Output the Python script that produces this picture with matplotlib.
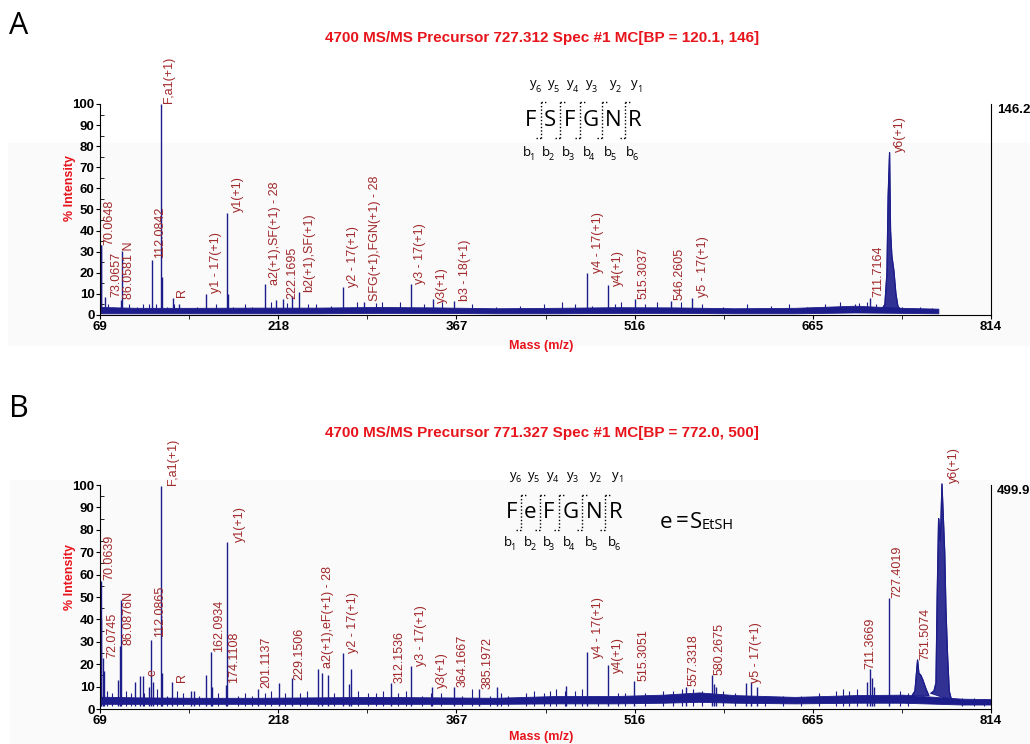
import matplotlib.pyplot as plt
from matplotlib.lines import Line2D
from matplotlib.patches import Rectangle

plt.rcParams["font.family"] = ["Liberation Sans", "DejaVu Sans"]

W, H = 1030, 744
NAVY = "#1c1c8a"
RED = "#e8141c"
LBL = "#a0282a"

# ---------------- panel A data ----------------
a_title = "4700 MS/MS Precursor 727.312 Spec #1 MC[BP = 120.1, 146]"
a_max = "146.2"
a_mz = [69.8, 70.1, 73.1, 87.1, 86.5, 112.3, 120.1, 121.2, 129.8, 135.0,
        157.7, 175.3, 175.9, 207.1, 216.5, 222.2, 229.5, 235.0, 272.2, 289.4,
        329.3, 347.5, 365.3, 476.4, 493.7, 516.0, 546.7, 563.7, 713.0]
a_int = [33, 33, 8.5, 30.5, 7, 26, 100, 18, 8, 5,
         10, 48.5, 10, 14.5, 7, 7.5, 9, 11, 13.5, 6,
         14.7, 7.5, 6.8, 19.7, 14, 7.4, 6.8, 8, 8.2]
# small noise spikes
a_noise_mz = [76, 80, 93, 100, 105, 110, 116, 125, 131, 140, 150, 166, 180, 190,
              196, 212, 225, 243, 250, 262, 284, 300, 305, 320, 340, 355, 380,
              400, 420, 440, 455, 466, 480, 500, 505, 525, 535, 555, 572, 590,
              610, 630, 645, 660, 675, 688, 700, 704, 710, 718, 740, 755, 765]
a_noise_int = [5, 4, 5, 4, 5, 5, 5, 4, 5, 3.5, 4, 5, 4, 5,
               4, 6, 5.5, 5, 5, 4.5, 6, 5.5, 6, 6, 5, 6, 5,
               4, 4.5, 5, 6, 5, 4.5, 5, 6, 5, 6, 6, 5, 4,
               5, 4.5, 5, 4, 5, 6, 5, 5.5, 6, 5, 4, 4, 3.5]
a_env_mz = [69, 100, 150, 200, 250, 300, 350, 400, 450, 500, 550, 600, 650, 700, 740, 770]
a_env_lo = [0.8, 0.8, 0.8, 0.8, 0.8, 1.0, 1.0, 0.8, 0.8, 1.0, 1.0, 0.8, 0.8, 1.2, 1.0, 0.8]
a_env_hi = [3.8, 3.4, 3.4, 3.5, 3.5, 3.8, 3.6, 3.2, 3.4, 3.7, 3.6, 3.2, 3.4, 4.4, 3.4, 3.0]
# broad y6 peak profile
a_prof_mz = [723.0, 725.3, 727.0, 728.0, 729.2, 730.0, 731.1, 732.8, 734.5, 736.2, 738.5]
a_prof_int = [3, 5, 20, 56, 77, 40, 28, 21, 10, 4, 2.5]

a_lbl = ["70.0648", "73.0657", "86.0581 N", "112.0842", "F,a1(+1)", "R",
         "y1 - 17(+1)", "y1(+1)", "a2(+1),SF(+1) - 28", "222.1695", "b2(+1),SF(+1)",
         "y2 - 17(+1)", "SFG(+1),FGN(+1) - 28", "y3 - 17(+1)", "y3(+1)", "b3 - 18(+1)",
         "y4 - 17(+1)", "y4(+1)", "515.3037", "546.2605", "y5 - 17(+1)",
         "711.7164", "y6(+1)"]
a_lbl_mz = [71.8, 77.4, 88.5, 114.2, 122.0, 132.4, 161.1, 179.2, 209.9, 224.7,
            239.2, 275.5, 293.6, 331.3, 350.3, 368.9, 480.6, 497.3, 518.3, 548.9,
            568.5, 715.0, 733.1]
a_lbl_y = [33, 8.7, 7.4, 26.9, 100.3, 8.7, 10.6, 48.7, 14.2, 7.4, 11, 13.4,
           6.8, 14.7, 5.5, 6.8, 19.7, 13.7, 7.4, 7.1, 8.4, 8.7, 77.4]

a_seq = ["F", "S", "F", "G", "N", "R"]

# ---------------- panel B data ----------------
b_title = "4700 MS/MS Precursor 771.327 Spec #1 MC[BP = 772.0, 500]"
b_max = "499.9"
b_mz = [69.8, 70.1, 71.8, 72.3, 83.9, 85.7, 86.6, 98.1, 102.3, 104.8, 110.3,
        112.0, 113.0, 120.1, 121.0, 129.4, 144.7, 148.0, 157.7, 161.7, 163.0,
        174.0, 175.3, 201.5, 219.0, 229.5, 250.9, 255.0, 259.3, 272.2, 277.0,
        278.9, 312.6, 329.3, 346.6, 364.8, 386.3, 401.0, 459.0, 476.4, 493.7,
        515.5, 558.7, 581.0, 582.2, 583.8, 609.0, 613.0, 618.0, 710.2, 713.0,
        714.4, 716.0, 728.3]
b_int = [57, 40, 22.6, 17, 13, 28, 48.7, 12, 14.7, 14.7, 10,
         31, 12, 99.5, 16, 12, 8, 8, 15, 25.6, 10,
         10.7, 74.7, 9, 11.6, 13.7, 18, 16, 15, 24.8, 11,
         18, 11.7, 19.3, 9.7, 10, 8.8, 9.7, 10.4, 25.3, 19.6,
         12.5, 10, 15.2, 11, 10, 11.7, 12, 10, 12, 18,
         14, 10, 49.4]
b_noise_mz = [75, 79, 91, 95, 106, 117, 125, 133, 138, 152, 168, 184, 190, 196,
              207, 212, 224, 236, 242, 265, 285, 293, 300, 306, 318, 325, 338,
              346, 354, 372, 380, 395, 404, 410, 425, 432, 440, 445, 450, 458,
              466, 472, 485, 502, 508, 525, 540, 548, 556, 565, 572, 590, 600,
              625, 640, 655, 670, 684, 690, 695, 702, 738, 745, 790, 800, 808]
b_noise_int = [8, 7, 8, 7, 7, 9, 6, 8, 7, 6, 7, 6, 7, 6,
               7, 8, 7, 7, 8, 7, 8, 7, 7, 8, 7, 8, 6,
               7, 7, 6, 9, 6, 7, 6, 7, 8, 7, 8, 9, 8,
               8, 9, 6, 7, 7, 7, 8, 8, 9, 9, 8, 8, 7,
               6, 6, 6, 7, 8, 9, 8, 9, 8, 7, 5, 5, 4.5]
b_env_mz = [69, 100, 150, 200, 250, 300, 350, 400, 450, 500, 540, 570, 600,
            650, 700, 740, 790, 814]
b_env_lo = [2.3, 2.3, 2.3, 2.3, 2.3, 2.3, 2.3, 2.3, 2.5, 2.5, 2.8, 3.2, 2.8,
            2.5, 2.8, 2.8, 2.0, 2.0]
b_env_hi = [5.5, 5.2, 5.0, 5.0, 5.2, 5.4, 5.2, 5.0, 5.8, 5.8, 6.4, 7.4, 6.2,
            5.4, 6.2, 6.4, 4.6, 4.4]
b_prof1_mz = [748.0, 750.4, 752.6, 753.7, 755.4, 757.0, 759.6, 762.0]
b_prof1_int = [6, 8, 21.9, 16, 15, 13, 9, 6]
b_prof2_mz = [763.8, 766.3, 768.0, 769.0, 770.2, 770.9, 771.7, 773.0, 774.4,
              775.3, 776.3, 777.6, 779.1, 780.5, 783.0]
b_prof2_int = [7, 8, 11.6, 50, 85, 80, 75, 100.5, 82, 70, 45, 25, 8, 5, 3.5]

b_lbl = ["70.0639", "72.0745", "86.0876N", "e", "112.0865", "F,a1(+1)", "R",
         "162.0934", "174.1108", "y1(+1)", "201.1137", "229.1506",
         "a2(+1),eF(+1) - 28", "y2 - 17(+1)", "312.1536", "y3 - 17(+1)", "y3(+1)",
         "364.1667", "385.1972", "y4 - 17(+1)", "y4(+1)", "515.3051", "557.3318",
         "580.2675", "y5 - 17(+1)", "711.3669", "727.4019", "751.5074", "y6(+1)"]
b_lbl_mz = [71.8, 74.0, 88.0, 108.1, 114.2, 124.8, 132.6, 163.8, 176.4, 180.6,
            202.9, 230.8, 254.6, 275.5, 314.5, 332.7, 350.3, 367.0, 387.7, 480.6,
            497.3, 518.3, 560.1, 582.4, 612.5, 708.5, 730.3, 754.0, 778.3]
b_lbl_y = [57.6, 22.6, 28.6, 14.7, 32, 100, 12.2, 25.6, 11.4, 74.7, 9.2, 13,
           18.2, 24.8, 11.4, 19.3, 9.2, 9.7, 8.8, 22.6, 15.9, 12.6, 10.3, 15.2,
           11.7, 17.7, 49.4, 21.9, 100.7]

b_seq = ["F", "e", "F", "G", "N", "R"]

x_ticks = [69, 218, 367, 516, 665, 814]


def fx(x):
    return x / W


def fy(y):
    return 1 - y / H


fig = plt.figure(figsize=(10.3, 7.44), dpi=100, facecolor="white")

# faint grey backdrop of the scanned figure
fig.patches.append(Rectangle((fx(8), fy(345)), fx(1022), 202 / H, transform=fig.transFigure,
                             color="#fafafa", zorder=-10))
fig.patches.append(Rectangle((fx(10), fy(744)), fx(1020), 264 / H, transform=fig.transFigure,
                             color="#fafafa", zorder=-10))


def panel(top, bottom, mz, inten, nz_mz, nz_int, env_mz, env_lo, env_hi, profiles,
          lbl, lbl_mz, lbl_y, maxtxt):
    ax = fig.add_axes([fx(100), fy(bottom), (991 - 100) / W, (bottom - top) / H])
    ax.patch.set_alpha(0)
    ax.set_xlim(69, 814)
    ax.set_ylim(0, 100)
    ax.fill_between(env_mz, env_lo, env_hi, color=NAVY, lw=0.6)
    ax.vlines(nz_mz, 1.5, nz_int, color=NAVY, lw=0.8)
    ax.vlines(mz, 1.5, inten, color=NAVY, lw=1.0, clip_on=False)
    for pm, pi in profiles:
        ax.fill(pm, pi, color=NAVY, lw=0.8, alpha=0.9, clip_on=False)
        ax.plot(pm, pi, color=NAVY, lw=0.9, clip_on=False)
    for t, x, y in zip(lbl, lbl_mz, lbl_y):
        ax.text(x, y, t, rotation=90, rotation_mode="anchor", ha="left", va="top",
                fontsize=9, color=LBL, clip_on=False)
    ax.spines["top"].set_visible(False)
    for s in ["left", "right", "bottom"]:
        ax.spines[s].set_linewidth(0.8)
    ax.set_xticks(x_ticks)
    ax.set_xticks([143.5, 292.5, 441.5, 590.5, 739.5], minor=True)
    ax.set_xticklabels([str(v) for v in x_ticks], fontweight="bold", fontsize=9.5)
    ax.set_yticks(range(0, 101, 10))
    ax.set_yticklabels([str(v) for v in range(0, 101, 10)], fontweight="bold", fontsize=9.5)
    ax.set_yticks(range(5, 100, 10), minor=True)
    ax.tick_params(axis="both", which="major", length=3, width=0.8, pad=1)
    ax.tick_params(axis="y", which="minor", direction="in", length=3, width=0.6)
    ax.tick_params(axis="x", which="minor", length=3, width=0.6)
    ax.tick_params(axis="y", right=False)
    fig.text(fx(997), fy(top), maxtxt, fontsize=9.5, fontweight="bold", ha="left", va="top")
    return ax


panel(104, 315, a_mz, a_int, a_noise_mz, a_noise_int, a_env_mz, a_env_lo, a_env_hi,
      [(a_prof_mz, a_prof_int)], a_lbl, a_lbl_mz, a_lbl_y, a_max)
panel(485, 709, b_mz, b_int, b_noise_mz, b_noise_int, b_env_mz, b_env_lo, b_env_hi,
      [(b_prof1_mz, b_prof1_int), (b_prof2_mz, b_prof2_int)], b_lbl, b_lbl_mz, b_lbl_y,
      b_max)

# titles and axis labels
for t, ty, ly, my, letter, lty in [(a_title, 38, 188, 346, "A", 26),
                                   (b_title, 433, 577, 737, "B", 409)]:
    fig.text(fx(542), fy(ty), t, color=RED, fontsize=11, fontweight="bold",
             ha="center", va="center")
    fig.text(fx(70), fy(ly), "% Intensity", color=RED, fontsize=9, fontweight="bold",
             rotation=90, ha="center", va="center")
    fig.text(fx(541), fy(my), "Mass (m/z)", color=RED, fontsize=9, fontweight="bold",
             ha="center", va="center")
    fig.text(fx(19), fy(lty), letter, fontsize=22, family="Open Sans",
             ha="center", va="center")


def sequence(letters, let_x, let_y, y_x, y_y, b_x, b_y, cut_x, cut_top, cut_bot):
    for s, x in zip(letters, let_x):
        fig.text(fx(x), fy(let_y), s, fontsize=16, family="Open Sans",
                 ha="center", va="center")
    for i, x in enumerate(y_x):
        fig.text(fx(x), fy(y_y), "y", fontsize=9.5, family="Open Sans",
                 ha="center", va="center")
        fig.text(fx(x + 5), fy(y_y + 5), str(6 - i), fontsize=6.5, family="Open Sans",
                 ha="center", va="center")
    for i, x in enumerate(b_x):
        fig.text(fx(x), fy(b_y), "b", fontsize=9.5, family="Open Sans",
                 ha="center", va="center")
        fig.text(fx(x + 5), fy(b_y + 5), str(i + 1), fontsize=6.5, family="Open Sans",
                 ha="center", va="center")
    for x in cut_x:
        fig.add_artist(Line2D([fx(x), fx(x)], [fy(cut_top), fy(cut_bot)],
                              ls=(0, (1, 1.5)), lw=1, color="black"))
        fig.add_artist(Line2D([fx(x), fx(x + 5)], [fy(cut_top), fy(cut_top)],
                              ls=(0, (1, 1.5)), lw=1, color="black"))
        fig.add_artist(Line2D([fx(x - 5), fx(x)], [fy(cut_bot), fy(cut_bot)],
                              ls=(0, (1, 1.5)), lw=1, color="black"))


sequence(a_seq, [530.7, 550, 569.3, 590.7, 613.3, 635], 120,
         [533, 551.3, 570.7, 589.7, 613, 634.7], 84,
         [526.7, 546, 566, 586.7, 608.3, 630], 152,
         [540.7, 560, 580, 601.7, 625], 102, 138)
sequence(b_seq, [511.7, 530, 549, 570.7, 594.3, 615.7], 513,
         [513, 531.3, 550.7, 570.7, 593, 615.3], 475,
         [507.7, 528.3, 546.7, 566.7, 589.3, 611.7], 542,
         [521, 540, 559.3, 582.3, 605], 495, 530)

for s, x in [("e", 666), ("=", 682), ("S", 696)]:
    fig.text(fx(x), fy(527.5), s, fontsize=16, family="Open Sans", ha="center",
             va="baseline")
fig.text(fx(701.5), fy(529), "EtSH", fontsize=10.5, family="Open Sans", ha="left",
         va="baseline")

fig.savefig("out.png", dpi=100, facecolor="white")
